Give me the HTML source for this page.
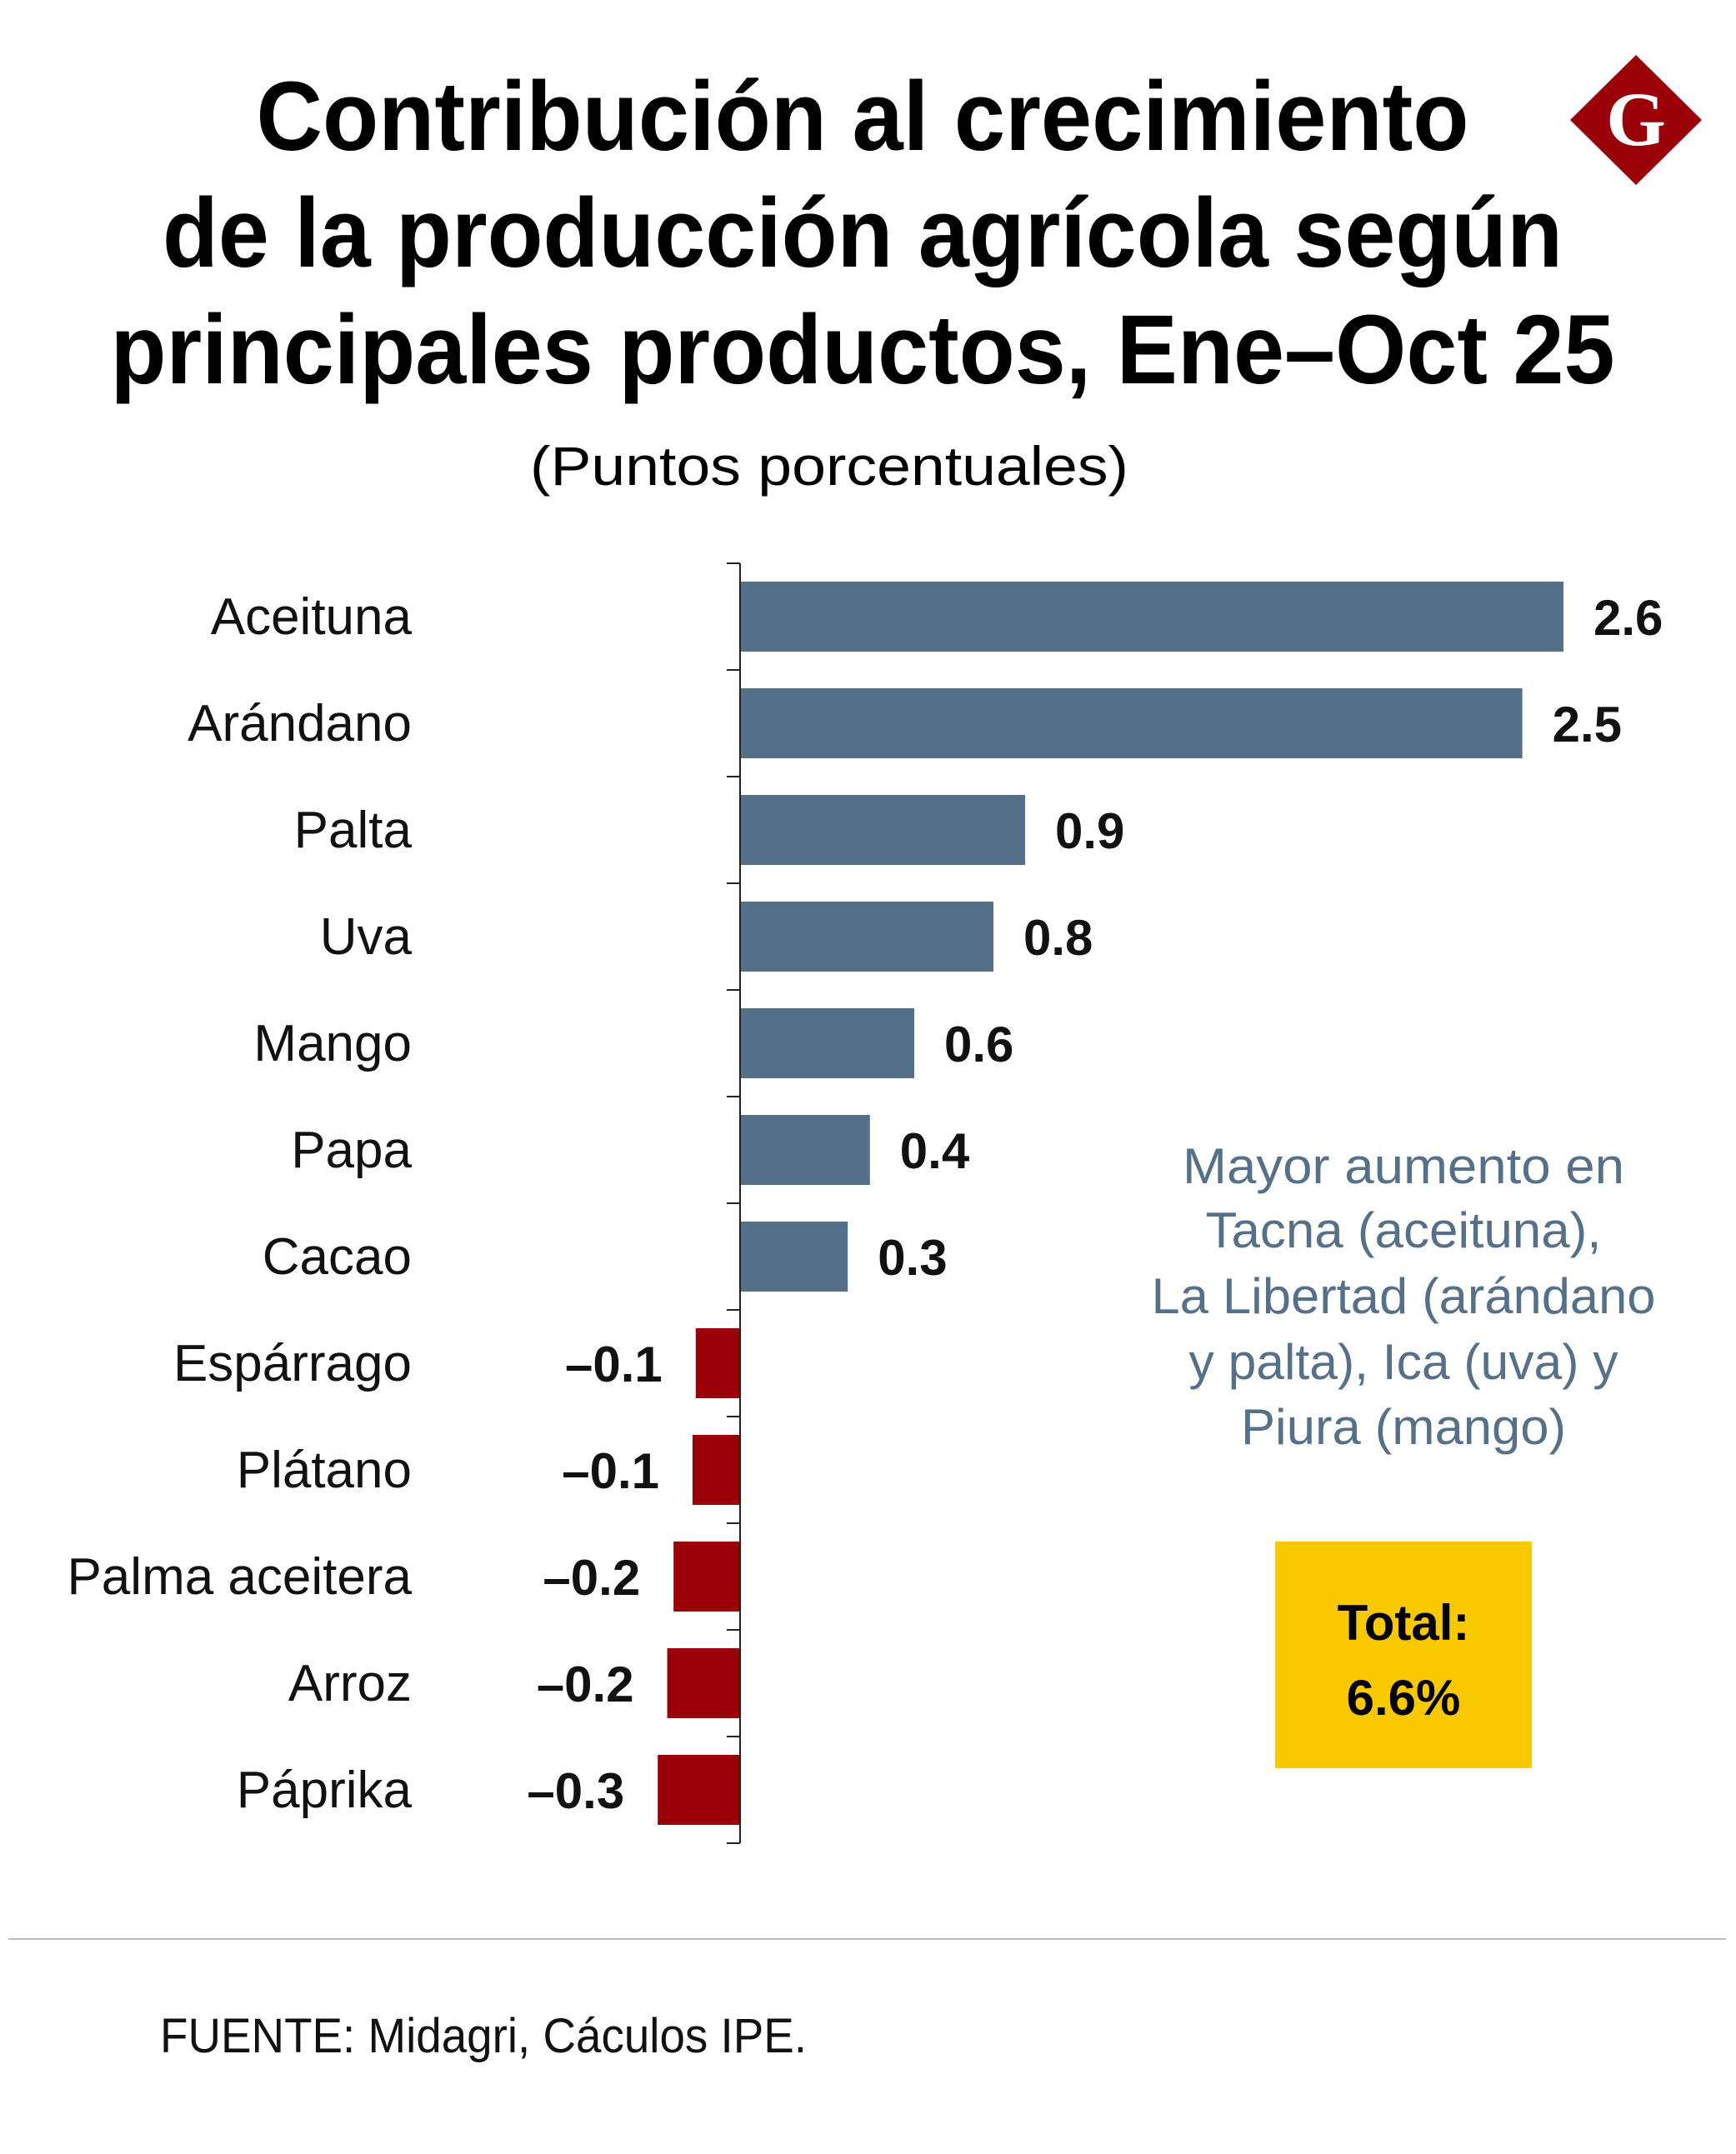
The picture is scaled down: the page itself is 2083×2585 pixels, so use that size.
<!DOCTYPE html>
<html><head><meta charset="utf-8">
<style>
html,body{margin:0;padding:0;background:#fff;}
svg{display:block;font-family:"Liberation Sans",sans-serif;}
</style></head>
<body>
<svg id="chart" width="2083" height="2585" viewBox="0 0 2083 2585" xmlns="http://www.w3.org/2000/svg">
<rect width="2083" height="2585" fill="#fff"/>
<g font-weight="bold" font-size="118" text-anchor="middle" fill="#000">
<text x="1035" y="180" textLength="1455" lengthAdjust="spacingAndGlyphs">Contribución al crecimiento</text>
<text x="1035" y="320" textLength="1680" lengthAdjust="spacingAndGlyphs">de la producción agrícola según</text>
<text x="1035" y="460" textLength="1805" lengthAdjust="spacingAndGlyphs">principales productos, Ene–Oct 25</text>
</g>
<text x="995" y="582" font-size="66" text-anchor="middle" textLength="718" lengthAdjust="spacingAndGlyphs">(Puntos porcentuales)</text>
<g>
<polygon points="1963,66 2042,144 1963,222 1884,144" fill="#990008"/>
<text x="1963" y="174" font-family="Liberation Serif,serif" font-size="92" font-weight="bold" fill="#fff" text-anchor="middle">G</text>
</g>
<g id="plot"></g>
<g font-size="60" fill="#56708a" text-anchor="middle">
<text x="1684" y="1420" textLength="530" lengthAdjust="spacingAndGlyphs">Mayor aumento en</text>
<text x="1684" y="1497" textLength="475" lengthAdjust="spacingAndGlyphs">Tacna (aceituna),</text>
<text x="1684" y="1576" textLength="605" lengthAdjust="spacingAndGlyphs">La Libertad (arándano</text>
<text x="1684" y="1655" textLength="515" lengthAdjust="spacingAndGlyphs">y palta), Ica (uva) y</text>
<text x="1684" y="1733" textLength="390" lengthAdjust="spacingAndGlyphs">Piura (mango)</text>
</g>
<g>
<rect x="1530" y="1850" width="308" height="272" fill="#f9c900"/>
<text x="1684" y="1968" font-size="60" font-weight="bold" text-anchor="middle">Total:</text>
<text x="1684" y="2058" font-size="60" font-weight="bold" text-anchor="middle">6.6%</text>
</g>
<line x1="10" y1="2327" x2="2071" y2="2327" stroke="#bbb" stroke-width="2"/>
<text x="192" y="2463" font-size="58" fill="#111" textLength="776" lengthAdjust="spacingAndGlyphs">FUENTE: Midagri, Cáculos IPE.</text>
</svg>
<script>
const categories = ["Aceituna","Arándano","Palta","Uva","Mango","Papa","Cacao","Espárrago","Plátano","Palma aceitera","Arroz","Páprika"];
const values = [2.6,2.47,0.9,0.8,0.55,0.41,0.34,-0.14,-0.15,-0.21,-0.23,-0.26];
const labels = ["2.6","2.5","0.9","0.8","0.6","0.4","0.3","-0.1","-0.1","-0.2","-0.2","-0.3"];

const NS="http://www.w3.org/2000/svg";
const plotG=document.getElementById('plot');
const x0=888, unit=380, plotTop=676, pitch=128, barH=84;
const xs=v=>x0+v*unit;
const yc=i=>plotTop+pitch*i+pitch/2;
function mk(t,a){const e=document.createElementNS(NS,t);for(const k in a)e.setAttribute(k,a[k]);plotG.appendChild(e);return e;}
categories.forEach((c,i)=>{
  const v=values[i];
  const x=Math.min(xs(0),xs(v)), w=Math.abs(xs(v)-xs(0));
  const r=mk('rect',{x:x,y:yc(i)-barH/2,width:w,height:barH,fill:v>=0?'#546f87':'#990008'});
  
  
  const l=mk('text',{x:494,y:yc(i)+21,'font-size':62,'text-anchor':'end',fill:'#111'});
  l.textContent=c;
  
  
  const vt=mk('text',{x:v>=0?xs(v)+36:xs(v)-40,y:yc(i)+22,'font-size':60,'font-weight':'bold','text-anchor':v>=0?'start':'end',fill:'#111'});
  vt.textContent=labels[i].replace('-','–');
  
  
});
for(let i=0;i<=categories.length;i++){
  const t=mk('line',{x1:x0-16,x2:x0,y1:plotTop+pitch*i,y2:plotTop+pitch*i,stroke:'#222','stroke-width':2});
  
  
}
const ax=mk('line',{x1:x0,x2:x0,y1:plotTop,y2:plotTop+pitch*categories.length,stroke:'#222','stroke-width':2});


</script>
</body></html>
